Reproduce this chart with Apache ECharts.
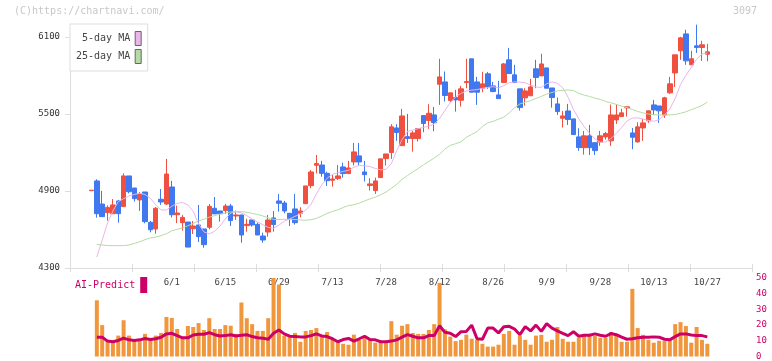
<!DOCTYPE html>
<html>
<head>
<meta charset="utf-8">
<script src="https://cdn.jsdelivr.net/npm/echarts@6/dist/echarts.min.js"></script>
<style>
  html, body { margin: 0; padding: 0; background: #fff; }
  #chart { width: 772px; height: 361px; }
</style>
</head>
<body>
<div id="chart"></div>
<script>
// Daily candles, oldest first (index 0 is the lone doji before the window starts)
const open = [4902, 4978, 4798, 4731, 4723, 4822, 4778, 5017, 4923, 4830, 4892, 4656, 4604, 4835, 4798, 4931, 4715, 4653, 4658, 4606,
  4635, 4604, 4617, 4765, 4744, 4747, 4783, 4705, 4713, 4630, 4674, 4640, 4549, 4580, 4690, 4822, 4806, 4726, 4760, 4726,
  4801, 4941, 5100, 5102, 5037, 4983, 4996, 5087, 5035, 5126, 5173, 5048, 4942, 4903, 5004, 5152, 5199, 5391, 5253, 5323,
  5308, 5308, 5487, 5448, 5492, 5731, 5749, 5604, 5627, 5606, 5744, 5929, 5749, 5700, 5812, 5718, 5648, 5744, 5921, 5804,
  5695, 5625, 5641, 5851, 5796, 5858, 5702, 5578, 5466, 5523, 5461, 5321, 5237, 5329, 5276, 5281, 5321, 5290, 5453, 5479,
  5547, 5352, 5282, 5391, 5446, 5570, 5562, 5492, 5664, 5819, 5991, 6123, 5882, 6030, 6017, 5965];
const close = [4906, 4723, 4700, 4772, 4791, 4723, 5017, 4894, 4840, 4876, 4661, 4598, 4765, 4814, 5032, 4715, 4728, 4694, 4463, 4627,
  4544, 4482, 4780, 4721, 4723, 4783, 4669, 4713, 4557, 4640, 4635, 4557, 4518, 4674, 4638, 4804, 4744, 4684, 4653, 4744,
  4939, 5048, 5113, 5037, 4980, 4993, 5017, 5035, 5079, 5204, 5126, 5027, 4955, 4978, 5150, 5188, 5399, 5355, 5484, 5308,
  5352, 5386, 5425, 5505, 5432, 5788, 5643, 5664, 5609, 5695, 5752, 5669, 5669, 5734, 5710, 5674, 5619, 5889, 5814, 5744,
  5549, 5679, 5710, 5783, 5889, 5700, 5627, 5518, 5484, 5456, 5339, 5238, 5329, 5237, 5214, 5329, 5347, 5492, 5492, 5508,
  5555, 5318, 5399, 5430, 5524, 5531, 5524, 5625, 5734, 5960, 6092, 5913, 5929, 6017, 6038, 5983];
const low = [4902, 4692, 4700, 4669, 4723, 4653, 4778, 4881, 4817, 4744, 4648, 4578, 4567, 4791, 4791, 4694, 4650, 4591, 4463, 4565,
  4502, 4458, 4601, 4721, 4661, 4721, 4627, 4674, 4497, 4583, 4622, 4557, 4497, 4544, 4583, 4739, 4726, 4627, 4638, 4695,
  4801, 4921, 5037, 5011, 4939, 4934, 4986, 5004, 5035, 5098, 5098, 4973, 4903, 4877, 5004, 5098, 5150, 5290, 5253, 5274,
  5206, 5285, 5357, 5383, 5365, 5570, 5596, 5591, 5518, 5557, 5700, 5669, 5570, 5669, 5695, 5669, 5619, 5744, 5814, 5744,
  5526, 5565, 5641, 5700, 5796, 5700, 5549, 5492, 5394, 5414, 5339, 5212, 5183, 5180, 5180, 5251, 5300, 5251, 5422, 5479,
  5479, 5225, 5276, 5290, 5430, 5492, 5430, 5469, 5656, 5710, 5921, 5882, 5882, 5975, 5913, 5910];
const high = [4906, 4991, 4900, 4788, 4837, 4830, 5037, 5017, 4923, 4892, 4892, 4666, 4775, 4915, 5149, 4978, 4785, 4713, 4658, 4666,
  4791, 4604, 4798, 4853, 4744, 4799, 4799, 4747, 4713, 4682, 4674, 4653, 4575, 4713, 4744, 4876, 4822, 4726, 4876, 4773,
  4939, 5063, 5180, 5134, 5050, 5024, 5103, 5121, 5134, 5274, 5274, 5134, 4999, 5004, 5150, 5188, 5420, 5420, 5539, 5500,
  5368, 5386, 5487, 5575, 5554, 5929, 5830, 5664, 5687, 5718, 5929, 5929, 5788, 5827, 5827, 5749, 5757, 5897, 6014, 5882,
  5695, 5700, 5773, 5921, 5968, 5858, 5702, 5627, 5523, 5578, 5461, 5388, 5367, 5414, 5276, 5368, 5360, 5573, 5573, 5540,
  5555, 5391, 5435, 5460, 5524, 5609, 5562, 5633, 5788, 5960, 6100, 6155, 5991, 6195, 6069, 6045];

const ma5 = ['-', 4386, 4518, 4651, 4744, 4817, 4839, 4861, 4873, 4881, 4873, 4842, 4792, 4752, 4752, 4781, 4803, 4810, 4792, 4740,
  4644, 4581, 4565, 4586, 4627, 4682, 4728, 4738, 4729, 4708, 4681, 4658, 4637, 4616, 4609, 4634, 4664, 4682, 4702, 4721,
  4750, 4797, 4877, 4948, 4999, 5030, 5042, 5052, 5061, 5084, 5099, 5096, 5090, 5075, 5064, 5068, 5113, 5215, 5299, 5363,
  5374, 5385, 5395, 5404, 5420, 5465, 5527, 5588, 5632, 5660, 5678, 5685, 5689, 5699, 5706, 5712, 5703, 5720, 5742, 5749,
  5748, 5742, 5724, 5710, 5706, 5735, 5749, 5738, 5703, 5630, 5534, 5461, 5402, 5349, 5305, 5279, 5281, 5308, 5347, 5394,
  5445, 5467, 5469, 5460, 5448, 5443, 5455, 5490, 5539, 5620, 5730, 5800, 5862, 5926, 5966, 5975];
const ma25 = ['-', 4483, 4479, 4475, 4474, 4474, 4474, 4479, 4491, 4504, 4521, 4534, 4541, 4552, 4567, 4590, 4601, 4612, 4629, 4647,
  4667, 4680, 4696, 4708, 4719, 4729, 4736, 4739, 4739, 4734, 4725, 4717, 4705, 4690, 4679, 4678, 4679, 4679, 4677, 4674,
  4672, 4676, 4686, 4705, 4725, 4740, 4753, 4771, 4787, 4792, 4805, 4822, 4838, 4852, 4870, 4891, 4921, 4951, 4990, 5020,
  5048, 5075, 5103, 5130, 5157, 5186, 5227, 5255, 5268, 5282, 5318, 5340, 5363, 5402, 5430, 5442, 5459, 5475, 5508, 5548,
  5578, 5590, 5604, 5620, 5636, 5654, 5667, 5679, 5684, 5686, 5682, 5660, 5646, 5636, 5623, 5613, 5597, 5586, 5574, 5560,
  5548, 5535, 5519, 5508, 5498, 5494, 5492, 5491, 5492, 5495, 5505, 5516, 5533, 5548, 5566, 5591];

// lower panel
const aiBars = ['-', 35.8, 20, 9.8, 9.2, 13.3, 23.1, 13.3, 10.6, 10.6, 14.4, 10.6, 13.3, 15, 25.2, 24.6, 17.5, 12.3, 19.4, 18.8,
  21.3, 16.9, 24.4, 17.5, 17.5, 20, 19.6, 14.4, 34.4, 24.4, 20.6, 16.3, 16.3, 24.4, 52, 45.8, 13.3, 12.3, 15, 9.4,
  16.3, 16.9, 18.1, 13.1, 15.6, 10.6, 9.6, 8.1, 7.5, 13.9, 10.6, 12.3, 10.6, 8.8, 8.8, 9.2, 22.5, 13.9, 19.6, 20.6,
  15, 14.4, 14.4, 16.9, 20.6, 46.9, 17.3, 12.7, 9.8, 10.6, 13.9, 11.3, 10.6, 8.1, 6.3, 6.3, 7.5, 14.4, 16.3, 7.5,
  13.3, 10.6, 7.5, 13.3, 13.8, 9.4, 10.6, 18.8, 11.3, 9.4, 9.4, 11.9, 14.4, 14.4, 13.1, 11.9, 11.9, 15.6, 14.4, 9.4,
  9.4, 43.1, 18.1, 13.8, 10.6, 8.8, 10, 10, 10, 20.6, 21.9, 19.4, 8.8, 18.8, 10.6, 8.1];
const aiLine = ['-', 12.3, 12.3, 9.8, 9.4, 10.2, 11.7, 10.6, 10.2, 10.6, 11.5, 10.8, 11.3, 12.3, 14.4, 14.8, 13.3, 11.9, 11.9, 13.7,
  14.2, 14.2, 15.2, 13.9, 13.1, 13.3, 13.9, 13.1, 13.5, 13.9, 12.7, 11.9, 11.7, 11, 14.8, 16.9, 14.4, 12.9, 12.7, 12.5,
  12.5, 13.3, 14.4, 13.1, 12.7, 11.3, 9.4, 10.8, 11.5, 9.8, 11.3, 12.9, 10.8, 10.6, 9.4, 9.4, 9.8, 10.6, 12.3, 13.9,
  12.9, 11.9, 11.9, 13.3, 13.3, 19.6, 15.4, 14.8, 12.7, 15.8, 16, 20, 11.3, 11, 18.1, 18.1, 15, 19, 19.2, 17.5,
  13.9, 19, 16.3, 20, 16, 21, 18.1, 16.3, 14.8, 13.3, 15.8, 12.9, 13.5, 13.5, 14.4, 13.5, 12.9, 14.6, 13.9, 12.3,
  11, 11.3, 11.9, 12.3, 12.3, 12.5, 12.3, 11, 10.6, 12.7, 14.4, 14.4, 13.7, 13.3, 13.3, 12.5];

const dateLabels = ['6/1', '6/15', '6/29', '7/13', '7/28', '8/12', '8/26', '9/9', '9/28', '10/13', '10/27'];
const dateIndex = [15, 25, 35, 45, 55, 65, 75, 85, 95, 105, 115];
const priceTicks = [4300, 4900, 5500, 6100];

const MONO = '"DejaVu Sans Mono", "Liberation Mono", monospace';
const UP = '#f05040';
const DOWN = '#4078f0';
const PINK = '#ebb4eb';
const GREEN = '#b4dba4';
const CRIMSON = '#cc0066';
const FRAME = '#dddddd';

function buildOption() {
  const cats = open.map((_, i) => {
    const k = dateIndex.indexOf(i);
    return k >= 0 ? dateLabels[k] : '';
  });
  const candles = open.map((o, i) => [o, close[i], low[i], high[i]]);
  const plotLeft = 88.8;
  const plotRight = 62;

  return {
    animation: false,
    textStyle: { fontFamily: MONO },
    title: [
      { text: '(C)https://chartnavi.com/', left: 14, top: 6, padding: 0,
        textStyle: { color: '#c8c8c8', fontSize: 10, fontWeight: 'normal', fontFamily: MONO } },
      { text: '3097', right: 15, top: 6, padding: 0,
        textStyle: { color: '#c8c8c8', fontSize: 10, fontWeight: 'normal', fontFamily: MONO } },
    ],
    legend: [
      {
        orient: 'vertical',
        left: 70,
        top: 24,
        padding: [7, 6, 7, 6],
        itemGap: 3,
        itemWidth: 6,
        itemHeight: 14,
        align: 'right',
        borderColor: FRAME,
        borderWidth: 1,
        backgroundColor: '#fff',
        formatter: (n) => (n === '5-day MA' ? ' 5-day MA' : n),
        textStyle: { color: '#444', fontSize: 10, fontFamily: MONO },
        data: [
          { name: '5-day MA', icon: 'rect', itemStyle: { color: PINK, borderColor: '#666', borderWidth: 1 } },
          { name: '25-day MA', icon: 'rect', itemStyle: { color: GREEN, borderColor: '#666', borderWidth: 1 } },
        ],
        selectedMode: false,
      },
      {
        left: 70,
        top: 272,
        itemWidth: 7,
        itemHeight: 16,
        align: 'right',
        textStyle: { color: CRIMSON, fontSize: 10, fontFamily: MONO },
        data: [{ name: 'AI-Predict', icon: 'rect', itemStyle: { color: CRIMSON } }],
        selectedMode: false,
      },
    ],
    grid: [
      { left: 70, right: 20, top: 24, height: 244 },
      { left: plotLeft, right: plotRight, top: 24, height: 244 },
      { left: plotLeft, right: plotRight, top: 278, height: 80 },
    ],
    xAxis: [
      // frame ticks of the price panel, outward and inward halves
      { gridIndex: 0, type: 'value', position: 'bottom', min: 0, max: 11, interval: 1,
        axisLine: { lineStyle: { color: FRAME } },
        axisTick: { length: 4, lineStyle: { color: FRAME } },
        axisLabel: { show: false }, splitLine: { show: false } },
      { gridIndex: 0, type: 'value', position: 'bottom', min: 0, max: 11, interval: 1,
        axisLine: { show: false },
        axisTick: { inside: true, length: 4, lineStyle: { color: FRAME } },
        axisLabel: { show: false }, splitLine: { show: false } },
      { gridIndex: 1, type: 'category', position: 'bottom', data: cats, boundaryGap: true,
        axisLine: { show: false }, axisTick: { show: false },
        axisLabel: { interval: 0, margin: 10, color: '#444', fontSize: 9, fontFamily: MONO } },
      { gridIndex: 2, type: 'category', data: cats, show: false },
    ],
    yAxis: [
      { gridIndex: 0, type: 'value', min: 4300, max: 6200,
        axisLine: { show: true, lineStyle: { color: FRAME } },
        axisTick: { show: true, length: 5, customValues: priceTicks, lineStyle: { color: FRAME } },
        axisLabel: { customValues: priceTicks, formatter: (v) => String(v), margin: 10,
          color: '#333', fontSize: 9, fontFamily: MONO },
        splitLine: { show: false } },
      { gridIndex: 1, type: 'value', min: 4300, max: 6200, show: false },
      { gridIndex: 2, type: 'value', min: 0, max: 50, interval: 10, position: 'right', offset: 42,
        axisLine: { show: false }, axisTick: { show: false }, splitLine: { show: false },
        axisLabel: { margin: 4, color: CRIMSON, fontSize: 9, fontFamily: MONO } },
    ],
    series: [
      { name: '5-day MA', type: 'line', xAxisIndex: 2, yAxisIndex: 1, data: ma5,
        showSymbol: false, lineStyle: { width: 1, color: PINK }, itemStyle: { color: PINK } },
      { name: '25-day MA', type: 'line', xAxisIndex: 2, yAxisIndex: 1, data: ma25,
        showSymbol: false, lineStyle: { width: 1, color: GREEN }, itemStyle: { color: GREEN } },
      { name: 'price', type: 'candlestick', xAxisIndex: 2, yAxisIndex: 1, data: candles, barWidth: 5,
        itemStyle: { color: UP, color0: DOWN, borderColor: UP, borderColor0: DOWN, borderWidth: 1 } },
      { name: 'volume', type: 'bar', xAxisIndex: 3, yAxisIndex: 2, data: aiBars, barWidth: 4,
        itemStyle: { color: '#f0963c' } },
      { name: 'AI-Predict', type: 'line', xAxisIndex: 3, yAxisIndex: 2, data: aiLine,
        showSymbol: false, lineStyle: { width: 3, color: CRIMSON }, itemStyle: { color: CRIMSON } },
    ],
  };
}

const chart = echarts.init(document.getElementById('chart'), null, { renderer: 'canvas' });
chart.setOption(buildOption());
</script>
</body>
</html>
